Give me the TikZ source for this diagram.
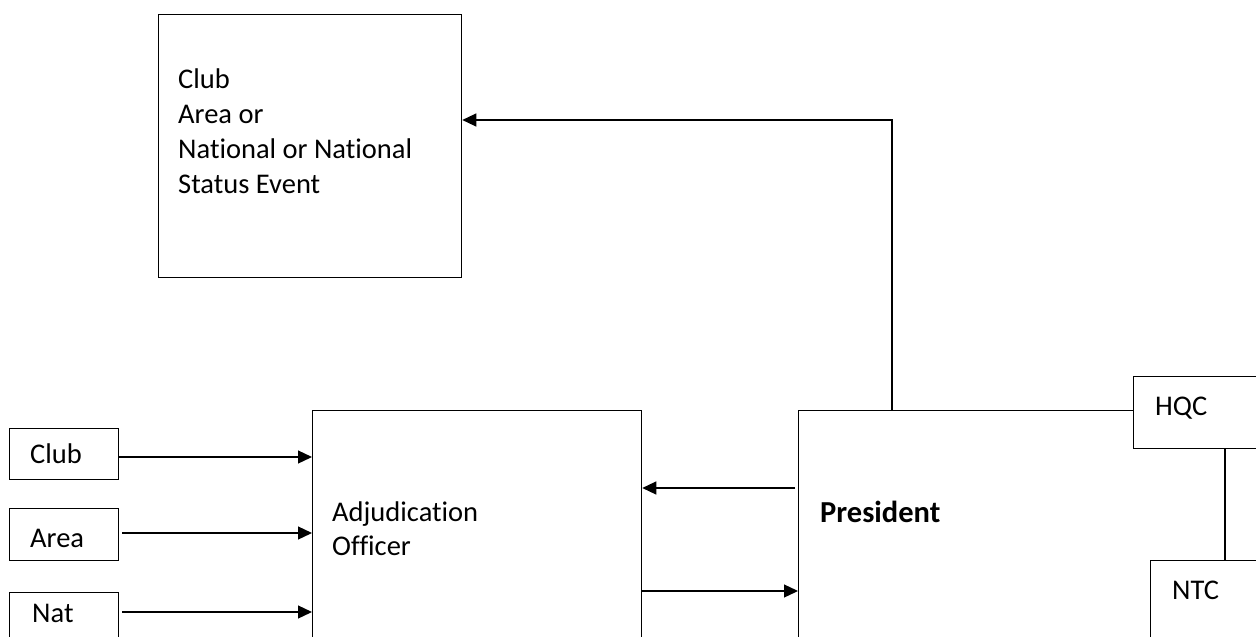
\documentclass[tikz,border=0pt]{standalone}
\usepackage{fontspec}
\setmainfont[Ligatures={NoCommon}]{Carlito}
\usetikzlibrary{arrows.meta}
\tikzset{
  x=1pt,y=-1pt,
  boxnode/.style={draw=black,line width=1.3pt,fill=white,rectangle,inner sep=0pt,anchor=north west},
  lbl/.style={anchor=base west,inner sep=0pt,font=\fontsize{28.5}{35}\selectfont},
  boldlbl/.style={lbl,font=\fontsize{30.5}{36}\selectfont\bfseries},
  conn/.style={line width=1.3pt,-{Triangle[length=14pt,width=13pt]}},
  plain/.style={line width=1.3pt},
}
\begin{document}
\begin{tikzpicture}
\useasboundingbox (0,0) rectangle (1256,637);
\clip (0,0) rectangle (1256,637);
% top box
\node[boxnode,minimum width=303pt,minimum height=263pt] (event) at (158,14) {};
\node[lbl] (ev1) at (178,88) {Club};
\node[lbl] (ev2) at (178,123) {Area or};
\node[lbl] (ev3) at (178,158) {National or National};
\node[lbl] (ev4) at (178,193) {Status Event};
% small boxes
\node[boxnode,minimum width=109pt,minimum height=51pt] (club) at (9,428) {};
\node[lbl] (clubtxt) at (30,463) {Club};
\node[boxnode,minimum width=109pt,minimum height=52pt] (area) at (9,508) {};
\node[lbl] (areatxt) at (30,547) {Area};
\node[boxnode,minimum width=109pt,minimum height=80pt] (nat) at (9,592) {};
\node[lbl] (nattxt) at (32,622) {Nat};
% adjudication
\node[boxnode,minimum width=329pt,minimum height=260pt] (adj) at (312,410) {};
\node[lbl] (adj1) at (332,521) {Adjudication};
\node[lbl] (adj2) at (332,555) {Officer};
% president
\node[boxnode,minimum width=520pt,minimum height=260pt] (pres) at (798,410) {};
\node[boldlbl] (prestxt) at (820,522) {President};
% HQC and NTC
\node[boxnode,minimum width=150pt,minimum height=72pt] (hqc) at (1133,376) {};
\node[lbl] (hqctxt) at (1155,415) {HQC};
\node[boxnode,minimum width=150pt,minimum height=100pt] (ntc) at (1150,560) {};
\node[lbl] (ntctxt) at (1172,599) {NTC};
\draw[plain] (hqc.south west) ++(92,0) coordinate (hqcb) -- (hqcb |- ntc.north);
% connectors
\draw[conn] (club.east |- 0,457) -- (adj.west |- 0,457);
\draw[conn] (122,533) coordinate (areaout) -- (adj.west |- areaout);
\draw[conn] (122,612) coordinate (natout) -- (adj.west |- natout);
\draw[conn] (795,488) coordinate (presout) -- (adj.east |- presout);
\draw[conn] (adj.east |- 0,591) -- (pres.west |- 0,591);
\draw[conn] (892,410) coordinate (prestop) -- (892,120) -- (event.east |- 0,120);
\end{tikzpicture}
\end{document}
